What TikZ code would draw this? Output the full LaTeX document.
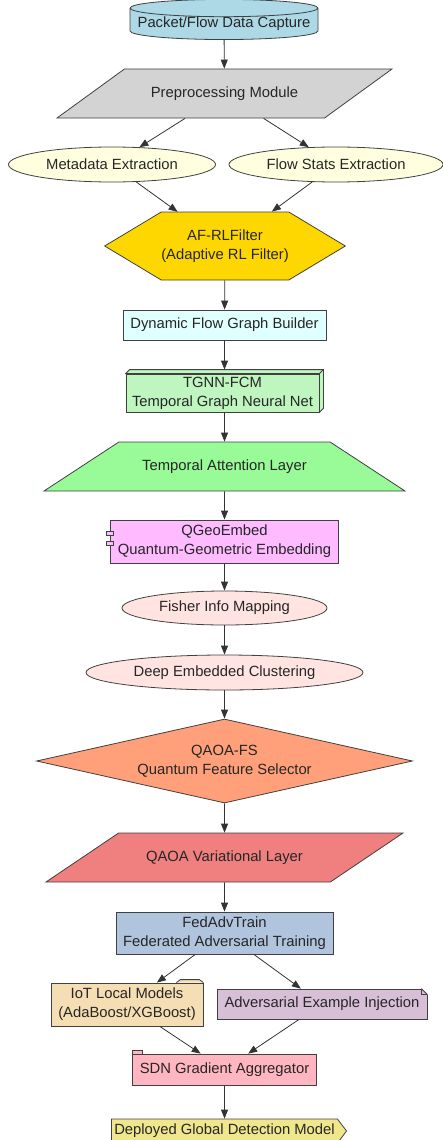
\documentclass[tikz,border=0pt]{standalone}
\usepackage{fontspec}
\setmainfont{Liberation Sans}
\usetikzlibrary{shapes.geometric,shapes.symbols,arrows.meta,calc}

\definecolor{capblue}{HTML}{ADD8E6}
\definecolor{prepgray}{HTML}{D3D3D3}
\definecolor{extryellow}{HTML}{FFFFE0}
\definecolor{filtergold}{HTML}{FFD700}
\definecolor{graphcyan}{HTML}{E0FFFF}
\definecolor{tgnngreen}{HTML}{BFF5BF}
\definecolor{attngreen}{HTML}{98FB98}
\definecolor{qgeoviolet}{HTML}{FFBBFF}
\definecolor{fisherrose}{HTML}{FFE4E1}
\definecolor{qaoasalmon}{HTML}{FFA07A}
\definecolor{qaoacoral}{HTML}{F08080}
\definecolor{fedsteel}{HTML}{B0C4DE}
\definecolor{iotwheat}{HTML}{F5DEB3}
\definecolor{advthistle}{HTML}{D8BFD8}
\definecolor{sdnpink}{HTML}{FFB6C1}
\definecolor{deploykhaki}{HTML}{F0E68C}

\begin{document}
\begin{tikzpicture}[x=1pt,y=1pt,
	every node/.style={font=\fontsize{14.8}{19}\selectfont,align=center,
		draw=black!75,line width=0.8pt,inner sep=0pt,text=black!85},
	box/.style={rectangle,minimum width=#1},
	oval/.style={ellipse,minimum width=#1,minimum height=35,fill=extryellow},
	slanted/.style={trapezium,trapezium stretches body,text height=11,text depth=3,
		inner ysep=17.5,minimum height=49},
	link/.style={-{Triangle[length=9pt,width=7pt]},line width=0.8pt,draw=black!80},
	deco/.style={line width=0.8pt,draw=black!75}]
	\useasboundingbox (0,0) rectangle (443,-1140);

	% Input and preprocessing
	\node[cylinder,shape border rotate=90,aspect=0.1,fill=capblue,
		minimum width=188,minimum height=32] (capture) at (224,-24) {Packet/Flow Data Capture};
	\node[slanted,trapezium left angle=36,trapezium right angle=144,
		minimum width=335,fill=prepgray] (prep) at (224.5,-93.5) {Preprocessing Module};
	\node[oval=207] (meta) at (112,-164.5) {Metadata Extraction};
	\node[oval=214] (flowstats) at (336,-164.5) {Flow Stats Extraction};

	\node[signal,signal to=west and east,signal pointer angle=62,fill=filtergold,
		minimum width=226,minimum height=68] (rlfilter) at (225,-246) {AF-RLFilter\\(Adaptive RL Filter)};

	% Graph stage
	\node[box=203,minimum height=30,fill=graphcyan] (graphb) at (224.5,-325) {Dynamic Flow Graph Builder};
	\node[box=193,minimum height=38,fill=tgnngreen] (tgnn) at (222.5,-393) {TGNN-FCM\\Temporal Graph Neural Net};
	\filldraw[deco,fill=tgnngreen] (tgnn.north west) -- ++(4,4) -- ($(tgnn.north east)+(4,4)$)
		-- ($(tgnn.south east)+(4,4)$) -- (tgnn.south east) -- (tgnn.north east) -- cycle;
	\draw[deco] (tgnn.north east) -- ++(4,4);
	\coordinate (tgnn top) at ($(tgnn.north)+(2,4)$);
	\node[slanted,trapezium angle=33.2,minimum width=361,fill=attngreen] (attn) at (224.5,-466.5) {Temporal Attention Layer};

	% Embedding stage
	\node[box=228,minimum height=43,fill=qgeoviolet] (qgeo) at (224.5,-541.5) {QGeoEmbed\\Quantum-Geometric Embedding};
	\foreach \Y in {5,-5} {
		\filldraw[deco,fill=qgeoviolet] ($(qgeo.north west)+(-3.5,-\Y-16.5)$) rectangle ++(7,-4);
	}
	\node[oval=205,minimum height=34,fill=fisherrose] (fisher) at (224.5,-608) {Fisher Info Mapping};
	\node[oval=277,fill=fisherrose] (dec) at (224.5,-672.5) {Deep Embedded Clustering};

	% Quantum feature selection
	\node[diamond,aspect=4.5,minimum width=376,minimum height=84,fill=qaoasalmon] (qaoafs) at (224.5,-761) {QAOA-FS\\Quantum Feature Selector};
	\node[slanted,trapezium left angle=34,trapezium right angle=146,
		minimum width=357,fill=qaoacoral] (qaoavar) at (224.5,-857.5) {QAOA Variational Layer};

	% Federated training
	\node[box=217,minimum height=42,fill=fedsteel] (fedadv) at (224.5,-933) {FedAdvTrain\\Federated Adversarial Training};
	\node[box=152,minimum height=43,fill=iotwheat] (iot) at (127,-1004.5) {IoT Local Models\\(AdaBoost/XGBoost)};
	\filldraw[deco,fill=iotwheat] ($(iot.north east)+(-27,0)$) -- ++(4,3) -- ++(19,0) -- (iot.north east);
	\node[box=210,minimum height=30,fill=advthistle] (advinj) at (322,-1004) {Adversarial Example Injection};
	\fill[white] ($(advinj.north east)+(-6.4,0.4)$) -- ($(advinj.north east)+(0.4,0.4)$) -- ($(advinj.north east)+(0.4,-6.4)$) -- cycle;
	\draw[deco] ($(advinj.north east)+(-6,0)$) -- ($(advinj.north east)+(0,-6)$);
	\draw[deco,line width=0.5pt] ($(advinj.north east)+(-6,0)$) -- ++(0,-6) -- ++(6,0);
	\node[box=184,minimum height=31,fill=sdnpink] (sdn) at (224.5,-1069.5) {SDN Gradient Aggregator};
	\filldraw[deco,fill=sdnpink] (sdn.north west) -- ++(0,3) -- ++(10,0) -- ++(0,-3);
	\node[signal,signal to=east,signal pointer angle=106,fill=deploykhaki,
		minimum width=235,minimum height=24] (deploy) at (224.5,-1131) {Deployed Global Detection Model};

	% Connectors
	\draw[link] (capture) -- (prep);
	\draw[link] (prep) -- (meta);
	\draw[link] (prep) -- (flowstats);
	\draw[link] (meta) -- (rlfilter);
	\draw[link] (flowstats) -- (rlfilter);
	\draw[link] (rlfilter) -- (graphb);
	\draw[link] (graphb) -- (tgnn top);
	\draw[link] (tgnn.south -| attn) -- (attn);
	\draw[link] (attn) -- (qgeo);
	\draw[link] (qgeo) -- (fisher);
	\draw[link] (fisher) -- (dec);
	\draw[link] (dec) -- (qaoafs);
	\draw[link] (qaoafs) -- (qaoavar);
	\draw[link] (qaoavar) -- (fedadv);
	\draw[link] (fedadv) -- (iot);
	\draw[link] (fedadv) -- (advinj);
	\draw[link] (iot) -- (sdn);
	\draw[link] (advinj) -- (sdn);
	\draw[link] (sdn) -- (deploy);
\end{tikzpicture}
\end{document}
